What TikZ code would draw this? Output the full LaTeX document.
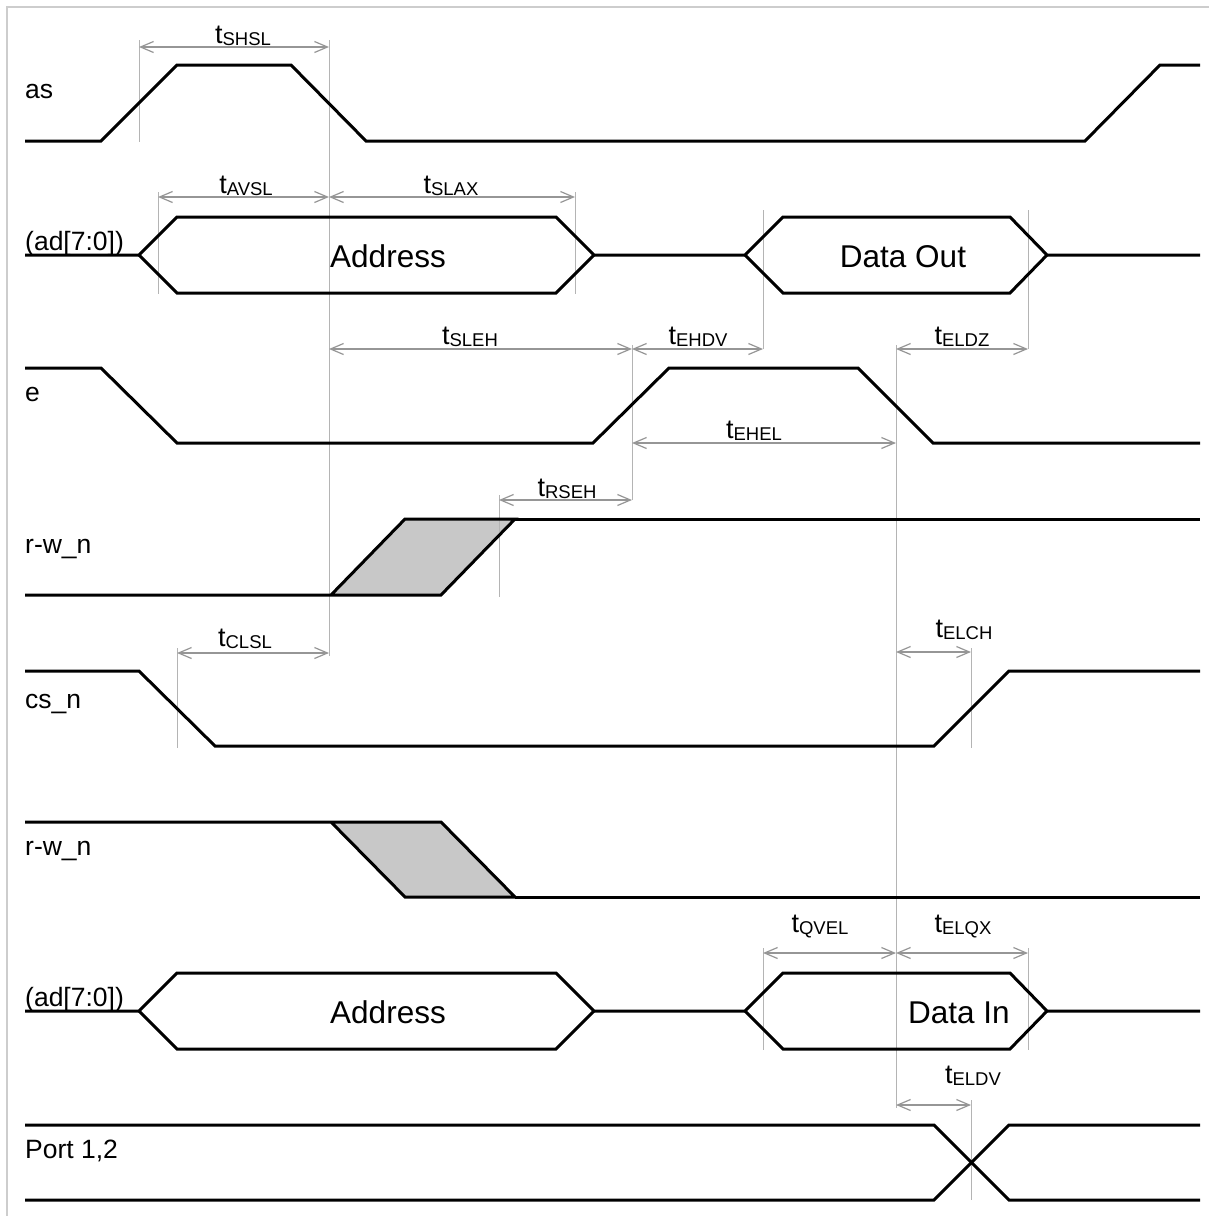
\documentclass[tikz,border=0pt]{standalone}
\usepackage{fontspec}
\setmainfont{Liberation Sans}
\usetikzlibrary{arrows.meta}
\definecolor{dimgray}{RGB}{150,150,150}
\definecolor{extgray}{RGB}{180,180,180}
\definecolor{fillgray}{RGB}{200,200,200}
\definecolor{framegray}{RGB}{205,205,205}
\newcommand\tsub[1]{t\raisebox{-0.1em}{\fontsize{18.5}{18.5}\selectfont #1}}
\begin{document}
\begin{tikzpicture}[x=1pt,y=-1pt,
  sig/.style={line width=3pt, black},
  dimline/.style={draw=dimgray, line width=1.2pt,
    {Straight Barb[length=13pt,width=11pt]}-{Straight Barb[length=13pt,width=11pt]}},
  extline/.style={draw=extgray, line width=1pt},
  siglabel/.style={anchor=base west, inner sep=0pt, font=\fontsize{26.5}{26.5}\selectfont},
  buslabel/.style={anchor=base, inner sep=0pt, font=\fontsize{31.5}{31.5}\selectfont},
  tlabel/.style={anchor=base, inner sep=0pt, font=\fontsize{27}{27}\selectfont}]
\useasboundingbox (0,0) rectangle (1209,1216);
\draw[framegray, line width=1.5pt] (7,1216) -- (7,7) -- (1209,7);

% ---------- gray fills of r-w_n transitions
\fill[fillgray] (331,595) -- (405,519) -- (515,519) -- (441,595) -- cycle;
\fill[fillgray] (331,822) -- (441,822) -- (515,897) -- (405,897) -- cycle;

% ---------- extension lines
\draw[extline] (139,40) -- (139,142);
\draw[extline] (329,40) -- (329,656);
\draw[extline] (158,192) -- (158,294);
\draw[extline] (575,192) -- (575,294);
\draw[extline] (763,210) -- (763,349);
\draw[extline] (1028,210) -- (1028,349);
\draw[extline] (632,345) -- (632,500);
\draw[extline] (896,345) -- (896,1108);
\draw[extline] (499,495) -- (499,597);
\draw[extline] (177,648) -- (177,748);
\draw[extline] (971,648) -- (971,748);
\draw[extline] (763,948) -- (763,1050);
\draw[extline] (1028,948) -- (1028,1050);
\draw[extline] (971,1100) -- (971,1200);

% ---------- dimension coordinates
\coordinate (shsl-a) at (139,47);  \coordinate (shsl-b) at (329,47);
\coordinate (avsl-a) at (158,197); \coordinate (avsl-b) at (329,197);
\coordinate (slax-a) at (329,197); \coordinate (slax-b) at (575,197);
\coordinate (sleh-a) at (329,349); \coordinate (sleh-b) at (632,349);
\coordinate (ehdv-a) at (632,349); \coordinate (ehdv-b) at (763,349);
\coordinate (eldz-a) at (896,349); \coordinate (eldz-b) at (1028,349);
\coordinate (ehel-a) at (632,443); \coordinate (ehel-b) at (896,443);
\coordinate (rseh-a) at (499,500); \coordinate (rseh-b) at (632,500);
\coordinate (clsl-a) at (177,653); \coordinate (clsl-b) at (329,653);
\coordinate (elch-a) at (896,652); \coordinate (elch-b) at (971,652);
\coordinate (qvel-a) at (763,953); \coordinate (qvel-b) at (896,953);
\coordinate (elqx-a) at (896,953); \coordinate (elqx-b) at (1028,953);
\coordinate (eldv-a) at (896,1105); \coordinate (eldv-b) at (971,1105);

\foreach \d in {shsl,avsl,slax,sleh,ehdv,eldz,ehel,rseh,clsl,elch,qvel,elqx,eldv}
  \draw[dimline] (\d-a) -- (\d-b);

% ---------- timing labels
\node[tlabel] (t-shsl) at (243,43)  {\tsub{SHSL}};
\node[tlabel] (t-avsl) at (246,193) {\tsub{AVSL}};
\node[tlabel] (t-slax) at (451,193) {\tsub{SLAX}};
\node[tlabel] (t-sleh) at (470,344) {\tsub{SLEH}};
\node[tlabel] (t-ehdv) at (698,344) {\tsub{EHDV}};
\node[tlabel] (t-eldz) at (962,344) {\tsub{ELDZ}};
\node[tlabel] (t-ehel) at (754,438) {\tsub{EHEL}};
\node[tlabel] (t-rseh) at (567,496) {\tsub{RSEH}};
\node[tlabel] (t-clsl) at (245,646) {\tsub{CLSL}};
\node[tlabel] (t-elch) at (964,637) {\tsub{ELCH}};
\node[tlabel] (t-qvel) at (820,932) {\tsub{QVEL}};
\node[tlabel] (t-elqx) at (963,932) {\tsub{ELQX}};
\node[tlabel] (t-eldv) at (973,1083) {\tsub{ELDV}};

% ---------- signal names
\node[siglabel] (l-as)   at (25,98)   {as};
\node[siglabel] (l-ad1)  at (25,250)  {(ad[7:0])};
\node[siglabel] (l-e)    at (25,401)  {e};
\node[siglabel] (l-rw1)  at (25,553)  {r-w\_n};
\node[siglabel] (l-cs)   at (25,708)  {cs\_n};
\node[siglabel] (l-rw2)  at (25,855)  {r-w\_n};
\node[siglabel] (l-ad2)  at (25,1006) {(ad[7:0])};
\node[siglabel] (l-port) at (25,1158) {Port 1,2};

% ---------- waveforms
% as
\draw[sig] (25,141) -- (101,141) -- (177,65) -- (291,65) -- (366,141) -- (1085,141) -- (1160,65) -- (1200,65);
% ad (write)
\draw[sig] (25,255) -- (139,255) -- (177,217) -- (556,217) -- (594,255) -- (745,255) -- (783,217) -- (1010,217) -- (1047,255) -- (1200,255);
\draw[sig] (139,255) -- (177,293) -- (556,293) -- (594,255);
\draw[sig] (745,255) -- (783,293) -- (1010,293) -- (1047,255);
\node[buslabel] (b-addr1) at (388,267) {Address};
\node[buslabel] (b-dout)  at (903,267) {Data Out};
% e
\draw[sig] (25,368) -- (101,368) -- (177,443) -- (593,443) -- (669,368) -- (858,368) -- (933,443) -- (1200,443);
% r-w_n (first)
\draw[sig] (25,595) -- (331,595) -- (405,519) -- (515,519) -- (441,595) -- (331,595);
\draw[sig] (515,519) -- (1200,519);
% cs_n
\draw[sig] (25,671) -- (139,671) -- (215,746) -- (934,746) -- (1009,671) -- (1200,671);
% r-w_n (second)
\draw[sig] (25,822) -- (331,822) -- (441,822) -- (515,897) -- (405,897) -- (331,822);
\draw[sig] (515,897) -- (1200,897);
% ad (read)
\draw[sig] (25,1011) -- (139,1011) -- (177,973) -- (556,973) -- (594,1011) -- (745,1011) -- (783,973) -- (1010,973) -- (1047,1011) -- (1200,1011);
\draw[sig] (139,1011) -- (177,1049) -- (556,1049) -- (594,1011);
\draw[sig] (745,1011) -- (783,1049) -- (1010,1049) -- (1047,1011);
\node[buslabel] (b-addr2) at (388,1023) {Address};
\node[buslabel] (b-din)   at (959,1023) {Data In};
% Port 1,2
\draw[sig] (25,1125) -- (934,1125) -- (1009,1200) -- (1200,1200);
\draw[sig] (25,1200) -- (934,1200) -- (1009,1125) -- (1200,1125);
\end{tikzpicture}
\end{document}
